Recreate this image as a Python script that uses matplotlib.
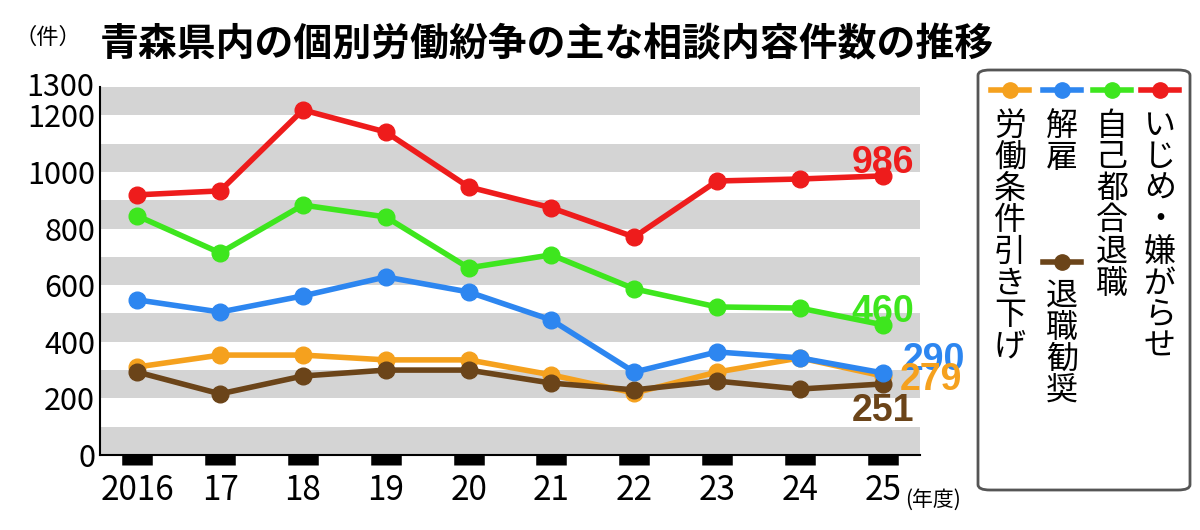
import matplotlib.pyplot as plt
from matplotlib.patches import FancyBboxPatch

plt.rcParams['font.family'] = ['Noto Sans CJK JP', 'DejaVu Sans']

years = ['2016', '17', '18', '19', '20', '21', '22', '23', '24', '25']
ijime = [919, 933, 1219, 1141, 947, 873, 770, 968, 975, 986]
jiko = [845, 714, 883, 841, 661, 707, 587, 523, 519, 460]
kaiko = [548, 505, 562, 629, 576, 477, 293, 364, 343, 290]
joken = [311, 353, 353, 336, 336, 283, 219, 293, 343, 279]
taishoku = [293, 216, 279, 300, 300, 254, 230, 261, 233, 251]

series = [
    ('労働条件引き下げ', joken, '#f5a11e'),
    ('退職勧奨', taishoku, '#6b4419'),
    ('解雇', kaiko, '#2d86f0'),
    ('自己都合退職', jiko, '#3ee61e'),
    ('いじめ・嫌がらせ', ijime, '#ee1c1c'),
]

fig = plt.figure(figsize=(12, 5.3), dpi=100)
ax = fig.add_axes([100/1200, 75/530, 820/1200, 368/530])
x = list(range(len(years)))
ax.set_xlim(-0.45, 9.45)
ax.set_ylim(0, 1300)
for lo in range(0, 1300, 200):
    ax.axhspan(lo, lo + 100, color='#d4d4d4', lw=0, zorder=0)

for name, vals, col in series:
    ax.plot(x, vals, color=col, lw=4, marker='o', ms=12, zorder=3, clip_on=False)

# 末尾の値ラベル
ends = [(ijime, '#ee1c1c', 0, 45), (jiko, '#3ee61e', 0, 45),
        (kaiko, '#2d86f0', 0.62, 45), (joken, '#f5a11e', 0.58, -15),
        (taishoku, '#6b4419', 0, -95)]
for vals, col, dx, dy in ends:
    ax.text(9 + dx, vals[-1] + dy, str(vals[-1]), color=col, fontsize=27,
            fontweight='bold', ha='center', va='center', family='Liberation Sans',
            clip_on=False)

ax.set_yticks(range(0, 1301, 200))
ax.set_yticklabels([str(v) for v in range(0, 1301, 200)], fontsize=22)
ax.text(-0.52, 1300, '1300', fontsize=22, ha='right', va='center')
ax.set_xticks(x)
ax.set_xticklabels(years, fontsize=24)
ax.tick_params(axis='x', length=7, width=22, color='black', pad=6, direction='out')
ax.tick_params(axis='y', length=0)
for s in ['top', 'right']:
    ax.spines[s].set_visible(False)
ax.spines['left'].set_linewidth(1.5)
ax.spines['bottom'].set_linewidth(1.5)

fig.text(15/1200, 0.93, '（件）', fontsize=16, va='center')
fig.text(905/1200, 30/530, '(年度)', fontsize=15, va='center')
fig.text(100/1200, 0.915, '青森県内の個別労働紛争の主な相談内容件数の推移',
         fontsize=28, fontweight='bold', va='center')

# 凡例（縦書き）
box = FancyBboxPatch((978/1200, 40/530), 212/1200, 420/530,
                     boxstyle='round,pad=0,rounding_size=0.01',
                     transform=fig.transFigure, fc='white', ec='#555555', lw=2)
fig.patches.append(box)
lx = [1010, 1062, 1112, 1160]
for i, (name, vals, col) in enumerate([series[0], series[2], series[3], series[4]]):
    xf = lx[i] / 1200
    fig.lines.append(plt.Line2D([xf - 0.016, xf + 0.016], [440/530, 440/530],
                                color=col, lw=4, transform=fig.transFigure))
    fig.lines.append(plt.Line2D([xf], [440/530], color=col, marker='o', ms=11,
                                transform=fig.transFigure))
    fig.text(xf, 420/530, '\n'.join(name), fontsize=23, ha='center', va='top',
             linespacing=0.98)
# 退職勧奨
xf = 1062 / 1200
fig.lines.append(plt.Line2D([xf - 0.016, xf + 0.016], [268/530, 268/530],
                            color='#6b4419', lw=4, transform=fig.transFigure))
fig.lines.append(plt.Line2D([xf], [268/530], color='#6b4419', marker='o', ms=11,
                            transform=fig.transFigure))
fig.text(xf, 250/530, '\n'.join('退職勧奨'), fontsize=23, ha='center', va='top',
         linespacing=0.98)

fig.savefig('out.png', dpi=100)
